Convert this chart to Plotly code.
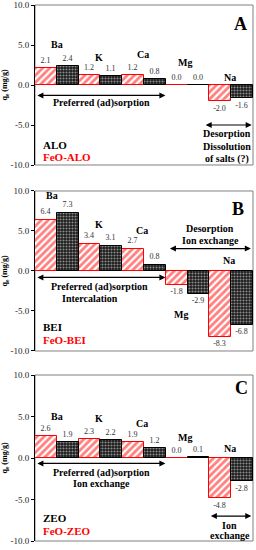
import plotly.graph_objects as go

categories = ["Ba", "K", "Ca", "Mg", "Na"]
feo_alo = [2.1, 1.2, 1.2, 0.0, -2.0]
alo = [2.4, 1.1, 0.8, 0.0, -1.6]
feo_bei = [6.4, 3.4, 2.7, -1.8, -8.3]
bei = [7.3, 3.1, 0.8, -2.9, -6.8]
feo_zeo = [2.6, 2.3, 1.9, 0.0, -4.8]
zeo = [1.9, 2.2, 1.2, 0.1, -2.8]
panel_letters = ["A", "B", "C"]
materials = ["ALO", "BEI", "ZEO"]
y_ticks = [-10, -5, 0, 5, 10]

SERIF = "Liberation Serif"
xpos = list(range(len(categories)))

fig = go.Figure()

domains = [(0.7015, 1.0), (0.3545, 0.653), (0.0, 0.3097)]
series = [(feo_alo, alo), (feo_bei, bei), (feo_zeo, zeo)]
label_font = dict(family=SERIF, size=8, color="#333333")

for i, (red_vals, blk_vals) in enumerate(series):
    xa = "x" if i == 0 else f"x{i+1}"
    ya = "y" if i == 0 else f"y{i+1}"
    fig.add_trace(go.Bar(
        x=xpos, y=red_vals, xaxis=xa, yaxis=ya, name="FeO-" + materials[i],
        marker=dict(color="white", line=dict(color="#ff0000", width=1),
                    pattern=dict(shape="/", fgcolor="#ff0000", bgcolor="white",
                                 size=5, solidity=0.55)),
        text=[f"{v:.1f}" for v in red_vals], textposition="outside",
        textfont=label_font, outsidetextfont=label_font,
        constraintext="none", cliponaxis=False, showlegend=False,
    ))
    fig.add_trace(go.Bar(
        x=xpos, y=blk_vals, xaxis=xa, yaxis=ya, name=materials[i],
        marker=dict(color="#222222", line=dict(color="#000000", width=1),
                    pattern=dict(shape=".", fgcolor="white", bgcolor="#1a1a1a",
                                 size=3, solidity=0.4)),
        text=[f"{v:.1f}" for v in blk_vals], textposition="outside",
        textfont=label_font, outsidetextfont=label_font,
        constraintext="none", cliponaxis=False, showlegend=False,
    ))

layout = dict(
    width=256, height=550,
    margin=dict(l=35, r=3, t=5, b=9),
    paper_bgcolor="white", plot_bgcolor="white",
    barmode="group", bargap=0, bargroupgap=0,
    font=dict(family=SERIF, color="#000000"),
)
for i, dom in enumerate(domains):
    sx = "" if i == 0 else str(i + 1)
    layout["xaxis" + sx] = dict(
        domain=[0, 1], range=[-0.5, 4.5], anchor="y" + sx,
        showticklabels=False, ticks="", showgrid=False, zeroline=False,
        showline=False, fixedrange=True,
    )
    layout["yaxis" + sx] = dict(
        domain=list(dom), range=[-10, 10], anchor="x" + sx,
        tickvals=y_ticks, ticktext=[f"{v:.1f}" for v in y_ticks],
        tickfont=dict(family=SERIF, size=9, color="#222222"),
        ticks="outside", ticklen=3, tickcolor="#000000", tickwidth=1,
        showline=True, linecolor="#000000", linewidth=1,
        showgrid=False, zeroline=False, automargin=False,
        title=dict(text="<b>q<sub>e</sub> (mg/g)</b>", standoff=2,
                   font=dict(family=SERIF, size=8, color="#000000")),
    )
fig.update_layout(**layout)

shapes = []
annotations = []

def axrefs(i):
    return ("x" if i == 0 else f"x{i+1}", "y" if i == 0 else f"y{i+1}")

for i in range(3):
    xr, yr = axrefs(i)
    shapes.append(dict(type="rect", xref=f"{xr} domain", yref=f"{yr} domain",
                       x0=0, x1=1, y0=0, y1=1, layer="below",
                       line=dict(color="#808080", width=1)))

def txt(i, x, y, text, size=10, color="#000000", bold=True, xanchor="center"):
    xr, yr = axrefs(i)
    annotations.append(dict(
        xref=xr, yref=yr, x=x, y=y, text=(f"<b>{text}</b>" if bold else text),
        showarrow=False, xanchor=xanchor, yanchor="middle",
        font=dict(family=SERIF, size=size, color=color),
    ))

def arrow(i, x0, x1, y):
    xr, yr = axrefs(i)
    annotations.append(dict(
        xref=xr, yref=yr, axref=xr, ayref=yr, x=x1, y=y, ax=x0, ay=y,
        text="", showarrow=True, arrowhead=2, arrowside="end+start",
        arrowsize=1, arrowwidth=1.2, arrowcolor="#000000",
        standoff=0, startstandoff=0,
    ))

# category name label positions per panel
cat_pos = [
    [(0.0, 5.1), (0.97, 3.5), (1.97, 3.8), (2.94, 2.8), (3.97, 1.0)],
    [(-0.1, 9.4), (0.97, 5.8), (1.96, 5.0), (2.85, -5.4), (3.95, 1.3)],
    [(0.01, 5.0), (0.97, 4.7), (1.95, 4.2), (2.94, 2.5), (3.97, 1.1)],
]
for i in range(3):
    for c, (x, y) in zip(categories, cat_pos[i]):
        txt(i, x, y, c, size=10)

letter_pos = [(4.22, 7.6), (4.16, 7.8), (4.24, 8.4)]
for i, (x, y) in enumerate(letter_pos):
    txt(i, x, y, panel_letters[i], size=18)

legend_pos = [(-7.5, -9.0), (-7.0, -8.6), (-7.2, -8.75)]
for i, (y1, y2) in enumerate(legend_pos):
    txt(i, -0.36, y1, materials[i], size=11, xanchor="left")
    txt(i, -0.36, y2, "FeO-" + materials[i], size=11, color="#ff0000", xanchor="left")

# Panel A
arrow(0, -0.48, 2.49, -1.3)
txt(0, 1.03, -2.2, "Preferred (ad)sorption")
arrow(0, 3.38, 4.47, -5.0)
txt(0, 3.9, -6.1, "Desorption")
txt(0, 3.9, -7.7, "Dissolution")
txt(0, 3.9, -9.2, "of salts (?)")

# Panel B
arrow(1, -0.48, 2.49, -0.8)
txt(1, 0.99, -2.0, "Preferred (ad)sorption")
txt(1, 0.75, -3.4, "Intercalation")
arrow(1, 2.56, 4.45, 2.8)
txt(1, 3.51, 5.25, "Desorption")
txt(1, 3.53, 3.8, "Ion exchange")

# Panel C
arrow(2, -0.48, 2.49, -0.65)
txt(2, 1.03, -1.8, "Preferred (ad)sorption")
txt(2, 1.03, -3.1, "Ion exchange")
arrow(2, 3.5, 4.46, -7.0)
txt(2, 3.97, -8.1, "Ion")
txt(2, 3.97, -9.3, "exchange")

fig.update_layout(shapes=shapes, annotations=annotations)
fig.write_html("out.html", config={"responsive": False, "displayModeBar": False})

with open("out.html", "r", encoding="utf-8") as f:
    html = f.read()
html = html.replace("<head>", "<head><style>html,body{margin:0;padding:0;overflow:hidden;}</style>", 1)
with open("out.html", "w", encoding="utf-8") as f:
    f.write(html)
